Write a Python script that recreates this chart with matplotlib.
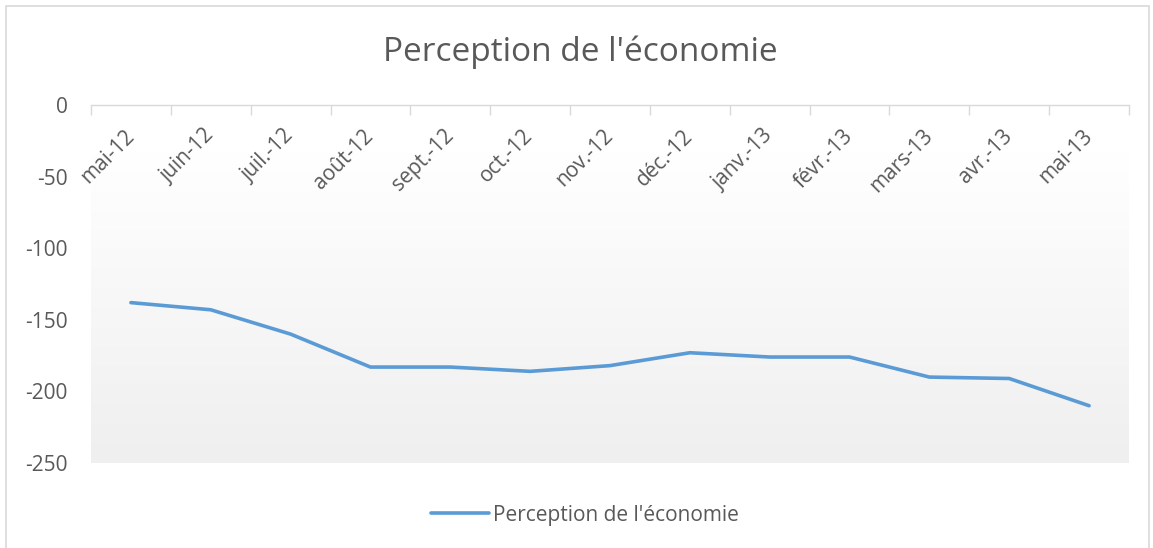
import numpy as np
import matplotlib.pyplot as plt
from matplotlib.patches import Rectangle
from matplotlib.colors import LinearSegmentedColormap

plt.rcParams['font.family'] = ['Open Sans', 'DejaVu Sans']
plt.rcParams['axes.unicode_minus'] = False

# data
months = ['mai-12', 'juin-12', 'juil.-12', 'août-12', 'sept.-12', 'oct.-12', 'nov.-12',
          'déc.-12', 'janv.-13', 'févr.-13', 'mars-13', 'avr.-13', 'mai-13']
perception = [-138, -143, -160, -183, -183, -186, -182, -173, -176, -176, -190, -191, -210]

grey_txt = '#595959'
blue = '#5b9bd5'

fig = plt.figure(figsize=(11.53, 5.48), dpi=100)
ax = fig.add_axes([91/1153, 1 - 463/548, 1038/1153, 358/548])

x = np.arange(len(months))

# gradient background of the plot area
cmap = LinearSegmentedColormap.from_list('bg', ['#ffffff', '#efefef'])
grad = np.linspace(0, 1, 256).reshape(-1, 1)
ax.imshow(grad, aspect='auto', cmap=cmap, extent=(-0.5, len(months) - 0.5, -250, -33),
          origin='upper', zorder=0)
ax.set_xlim(-0.5, len(months) - 0.5)
ax.set_ylim(-250, 0)

ax.plot(x, perception, color=blue, lw=2.6, solid_capstyle='round', label="Perception de l'économie", zorder=3)

for s in ['top', 'right', 'left']:
    ax.spines[s].set_visible(False)
ax.spines['bottom'].set_position(('data', 0))
ax.spines['bottom'].set_color('#d9d9d9')
ax.spines['bottom'].set_linewidth(1)

ax.set_yticks([0, -50, -100, -150, -200, -250])
ax.tick_params(axis='y', length=0, labelsize=15, labelcolor=grey_txt, pad=17)

ax.set_xticks(x)
ax.set_xticklabels(months)
ax.set_xticks(np.arange(len(months) + 1) - 0.5, minor=True)
ax.tick_params(axis='x', which='major', length=0, labelsize=15, labelcolor=grey_txt, pad=20)
ax.tick_params(axis='x', which='minor', length=7, color='#d9d9d9', width=1)
for lbl in ax.get_xticklabels():
    lbl.set_rotation(45)
    lbl.set_ha('right')
    lbl.set_va('center')
    lbl.set_rotation_mode('anchor')

fig.text(580/1153, 1 - 52/548, "Perception de l'économie", ha='center', va='center',
         fontsize=24, color=grey_txt)

leg = fig.legend(loc='center', bbox_to_anchor=(585/1153, 1 - 515/548), frameon=False,
                 fontsize=15, handlelength=2.8, handletextpad=0.2)
for t in leg.get_texts():
    t.set_color(grey_txt)

fig.patches.append(Rectangle((6/1153, -0.01), 1143/1153, 1 - 6/548 + 0.01, transform=fig.transFigure,
                             fill=False, edgecolor='#d9d9d9', lw=1.2))

fig.savefig('out.png', dpi=100)
